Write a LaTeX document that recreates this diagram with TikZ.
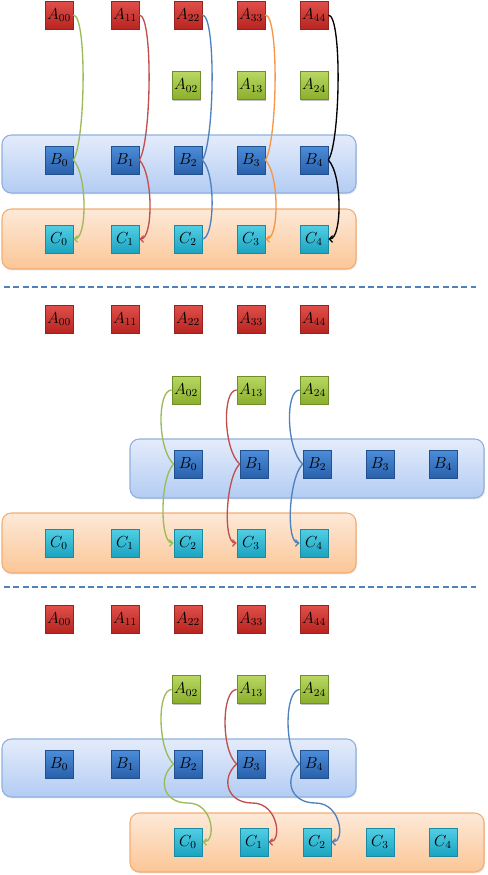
\documentclass[tikz,border=0pt]{standalone}
\usetikzlibrary{arrows.meta,shadows,calc}
\definecolor{redT}{HTML}{E0504A}
\definecolor{redB}{HTML}{B82420}
\definecolor{redD}{HTML}{962320}
\definecolor{grnT}{HTML}{B8D862}
\definecolor{grnB}{HTML}{8AAE2C}
\definecolor{grnD}{HTML}{6F8E2A}
\definecolor{bluT}{HTML}{4C8DDA}
\definecolor{bluB}{HTML}{2A60AA}
\definecolor{bluD}{HTML}{22508C}
\definecolor{cynT}{HTML}{52CFE6}
\definecolor{cynB}{HTML}{1BA3C0}
\definecolor{cynD}{HTML}{1A8AA2}
\definecolor{bbT}{HTML}{E4ECFB}
\definecolor{bbB}{HTML}{B3CCF3}
\definecolor{bbD}{HTML}{8EB0E0}
\definecolor{obT}{HTML}{FDE9D8}
\definecolor{obB}{HTML}{FBC696}
\definecolor{obD}{HTML}{F5AD73}
\definecolor{gline}{HTML}{9BBB59}
\definecolor{rline}{HTML}{C0504D}
\definecolor{bline}{HTML}{4F81BD}
\definecolor{oline}{HTML}{F79646}
\definecolor{dashc}{HTML}{4F81BD}
\begin{document}
\begin{tikzpicture}[x=0.75pt,y=-0.75pt,
  sq/.style={minimum size=21pt,inner sep=0pt,rectangle,line width=0.5pt,
    font=\fontsize{12}{14}\selectfont,
    drop shadow={shadow xshift=0.9pt,shadow yshift=-0.9pt,opacity=0.35,fill=black!70}},
  sqA/.style={sq,draw=redD,top color=redT,bottom color=redB},
  sqG/.style={sq,draw=grnD,top color=grnT,bottom color=grnB},
  sqB/.style={sq,draw=bluD,top color=bluT,bottom color=bluB},
  sqC/.style={sq,draw=cynD,top color=cynT,bottom color=cynB},
  bandB/.style={draw=bbD,line width=0.8pt,top color=bbT,bottom color=bbB,rounded corners=7pt,
    drop shadow={shadow xshift=0.8pt,shadow yshift=-1pt,opacity=0.2}},
  bandO/.style={draw=obD,line width=0.8pt,top color=obT,bottom color=obB,rounded corners=7pt,
    drop shadow={shadow xshift=0.8pt,shadow yshift=-1pt,opacity=0.2}},
  con/.style={line width=1pt},
  arr/.style={-{Straight Barb[length=2.5pt,width=5pt]}},
  dashln/.style={draw=dashc,line width=1.1pt,dash pattern=on 4.5pt off 2.5pt}
]
\useasboundingbox (0,0) rectangle (487,875);

% dashed separators
\draw[dashln] (4,287) -- (476,287);
\draw[dashln] (4,587) -- (476,587);

% ---------- top panel ----------
\path[bandB] (2,135) rectangle (356,193);
\path[bandO] (2,209) rectangle (356,269);
\foreach \x [count=\i from 0] in {59,125,188,251,314} {
  \node[sqA] (tA\i) at (\x,15) {$A_{\i\i}$};
  \node[sqB] (tB\i) at (\x,160) {$B_{\i}$};
  \node[sqC] (tC\i) at (\x,239) {$C_{\i}$};
}
\foreach \x/\lab [count=\i from 0] in {186/02,251/13,314/24} {
  \node[sqG] (tG\i) at (\x,85.5) {$A_{\lab}$};
}
\foreach \i/\c in {0/gline,1/rline,2/bline,3/oline,4/black} {
  \draw[con,\c] (tA\i.east) .. controls +(14,0) and +(12,-18) .. (tB\i.east);
}
\foreach \i/\c in {0/gline,1/rline,3/oline,4/black} {
  \draw[con,arr,\c] (tB\i.east) .. controls +(14,14) and +(14,0) .. (tC\i.east);
}
\draw[con,bline] (tB2.east) .. controls +(14,14) and +(12,0) .. (tC2.east);

% ---------- middle panel ----------
\path[bandB] (130,439) rectangle (484,498);
\path[bandO] (2,513) rectangle (356,573);
\foreach \x [count=\i from 0] in {59,125,188,251,314} {
  \node[sqA] (mA\i) at (\x,319) {$A_{\i\i}$};
}
\foreach \x [count=\i from 0] in {188,254,317,380,443} {
  \node[sqB] (mB\i) at (\x,464) {$B_{\i}$};
}
\foreach \x [count=\i from 0] in {59,125,188,251,314} {
  \node[sqC] (mC\i) at (\x,543) {$C_{\i}$};
}
\foreach \x/\lab [count=\i from 0] in {186/02,251/13,314/24} {
  \node[sqG] (mG\i) at (\x,390) {$A_{\lab}$};
}
\foreach \i/\k/\c in {0/2/gline,1/3/rline,2/4/bline} {
  \draw[con,\c] (mG\i.west) .. controls +(-15,0) and +(-16,-14) .. (mB\i.west);
  \draw[con,arr,\c] (mB\i.west) .. controls +(-14,14) and +(-14,0) .. (mC\k.west);
}

% ---------- bottom panel ----------
\path[bandB] (2,739) rectangle (356,797);
\path[bandO] (130,813) rectangle (484,872);
\foreach \x [count=\i from 0] in {59,125,188,251,314} {
  \node[sqA] (bA\i) at (\x,619) {$A_{\i\i}$};
  \node[sqB] (bB\i) at (\x,764) {$B_{\i}$};
}
\foreach \x [count=\i from 0] in {188,254,317,380,443} {
  \node[sqC] (bC\i) at (\x,842) {$C_{\i}$};
}
\foreach \x/\lab [count=\i from 0] in {186/02,251/13,314/24} {
  \node[sqG] (bG\i) at (\x,689.5) {$A_{\lab}$};
}
\foreach \i/\k/\c in {0/2/gline,1/3/rline,2/4/bline} {
  \draw[con,\c] (bG\i.west) .. controls +(-15,0) and +(-16,-14) .. (bB\k.west);
  \draw[con,arr,\c] (bB\k.west) .. controls +(-16,14) and +(-26,0) ..
     ($(bB\k.west)!0.5!(bC\i.east)$) .. controls +(26,0) and +(14,0) .. (bC\i.east);
}
\end{tikzpicture}
\end{document}
